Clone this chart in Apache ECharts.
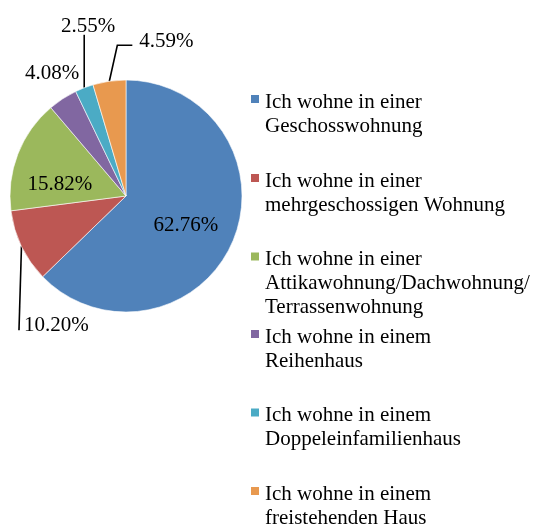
<!DOCTYPE html>
<html>
<head>
<meta charset="utf-8">
<script src="https://cdn.jsdelivr.net/npm/echarts@6/dist/echarts.min.js"></script>
<style>
  html, body { margin: 0; padding: 0; background: #fff; }
  #chart { width: 534px; height: 527px; }
</style>
</head>
<body>
<div id="chart"></div>
<script>
// Wohnform – Anteile in %
const categories = [
  'Ich wohne in einer\nGeschosswohnung',
  'Ich wohne in einer\nmehrgeschossigen Wohnung',
  'Ich wohne in einer\nAttikawohnung/Dachwohnung/\nTerrassenwohnung',
  'Ich wohne in einem\nReihenhaus',
  'Ich wohne in einem\nDoppeleinfamilienhaus',
  'Ich wohne in einem\nfreistehenden Haus'
];
const shares = [62.76, 10.20, 15.82, 4.08, 2.55, 4.59];
const colors = ['#5082BA', '#BD5753', '#9BB85C', '#8167A1', '#4BABC5', '#E8994F'];

// Kreis-Geometrie
const CX = 126, CY = 196, R = 116;
const FONT = 'Liberation Serif';

// Beschriftung relativ zum Randpunkt der Segmentmitte
const labelOffsets = [[-47, -15.5], [35, 79.5], [42, 30.5], [-10.5, -25.5], [4, -61.5], [57, -39.5]];
const lineBends = [null, [[-2.5, 84], [-2.5, 84]], null, null, [[0, -53], [0, -53]], [[8, -36], [23, -36]]];

// Legende: Symbolmitte je Eintrag
const legendIconY = [99, 178, 256.5, 334, 412.5, 491];

const total = shares.reduce((a, b) => a + b, 0);
const midAngles = [];
let acc = 0;
shares.forEach(v => {
  midAngles.push((acc + v / 2) / total * Math.PI * 2);
  acc += v;
});

// Symbol soll auf Höhe der ersten Zeile stehen -> Leerzeile davor
const legends = categories.map((name, i) => {
  const n = name.split('\n').length;
  const gap = 24 * n - 18;
  const boxH = gap + 24 * n;
  return {
    orient: 'vertical',
    left: 249,
    top: legendIconY[i] - boxH / 2,
    padding: 0,
    icon: 'rect',
    itemWidth: 10,
    itemHeight: 10,
    selectedMode: false,
    data: [name],
    formatter: t => '{gap| }\n' + t,
    textStyle: {
      fontFamily: FONT,
      fontSize: 21,
      lineHeight: 24,
      color: '#000',
      rich: {
        gap: { fontSize: 2, lineHeight: gap, height: gap }
      }
    }
  };
});

const chart = echarts.init(document.getElementById('chart'));
chart.setOption({
  animation: false,
  backgroundColor: '#fff',
  color: colors,
  textStyle: { fontFamily: FONT },
  legend: legends,
  series: [{
    type: 'pie',
    center: [CX, CY],
    radius: R,
    startAngle: 90,
    clockwise: true,
    avoidLabelOverlap: false,
    emphasis: { disabled: true },
    itemStyle: { borderColor: '#fff', borderWidth: 0.6 },
    label: {
      show: true,
      position: 'outside',
      fontFamily: FONT,
      fontSize: 21,
      color: '#000',
      formatter: p => p.value.toFixed(2) + '%'
    },
    labelLine: {
      show: true,
      lineStyle: { color: '#000', width: 1.6 }
    },
    labelLayout: function (params) {
      const i = params.dataIndex;
      const a = midAngles[i];
      const ex = CX + R * Math.sin(a);
      const ey = CY - R * Math.cos(a);
      const res = {
        x: ex + labelOffsets[i][0],
        y: ey + labelOffsets[i][1],
        align: 'center',
        verticalAlign: 'middle'
      };
      if (lineBends[i]) {
        res.labelLinePoints = [
          [ex, ey],
          [ex + lineBends[i][0][0], ey + lineBends[i][0][1]],
          [ex + lineBends[i][1][0], ey + lineBends[i][1][1]]
        ];
      }
      return res;
    },
    data: categories.map((name, i) => ({
      name: name,
      value: shares[i],
      labelLine: { show: !!lineBends[i] }
    }))
  }]
});
</script>
</body>
</html>
